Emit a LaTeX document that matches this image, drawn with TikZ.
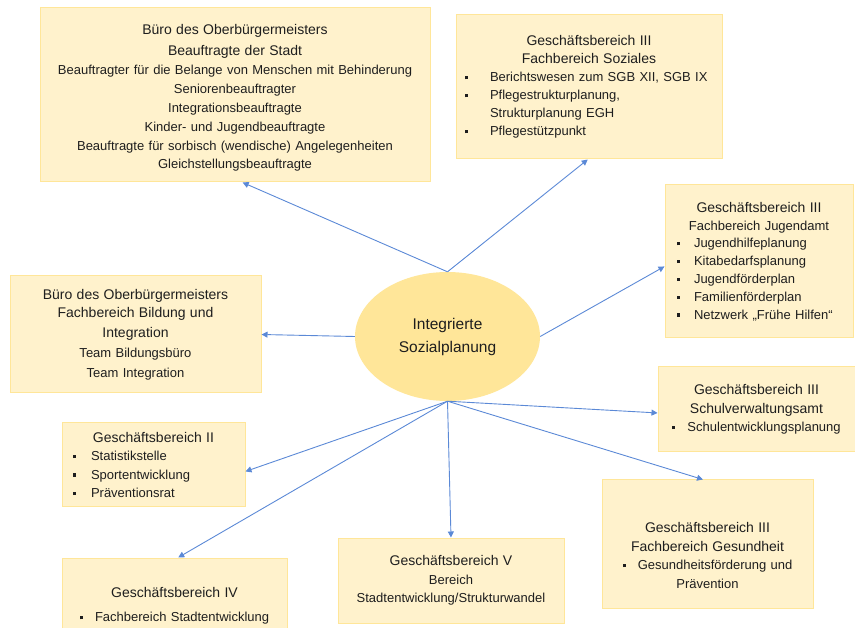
\documentclass[tikz,border=0pt]{standalone}
\usepackage{fontspec}
\setmainfont{Liberation Sans}
\usetikzlibrary{arrows.meta,shapes.geometric}
\definecolor{boxfill}{HTML}{FFF2CC}
\definecolor{boxline}{HTML}{FFE699}
\definecolor{ellfill}{HTML}{FFE699}
\definecolor{linkblue}{HTML}{5B89D6}
\definecolor{txt}{HTML}{1E1E1E}
\newcommand{\hd}{\fontsize{14}{18.5}\selectfont}
\newcommand{\sq}{\raisebox{2.6pt}{\rule{3.2pt}{3.2pt}}}
\newcommand{\itm}[2][18pt]{\par\noindent\makebox[#1][l]{\sq}\mbox{#2}}
\newcommand{\cont}[2][18pt]{\par\noindent\hspace*{#1}\mbox{#2}}
\begin{document}
\begin{tikzpicture}[x=1pt,y=-1pt,
    box/.style={draw=boxline,fill=boxfill,line width=1pt,inner ysep=0pt,
      text=txt,font=\fontsize{13}{18.5}\selectfont},
    hub/.style={ellipse,fill=ellfill,inner sep=0pt,text=txt,align=center,
      font=\fontsize{15.5}{23}\selectfont},
    link/.style={draw=linkblue,line width=0.9pt,-{Triangle[length=6pt,width=6pt]}}]
      \useasboundingbox (0,0) rectangle (855,628);
      \clip (0,0) rectangle (855,628);
      \draw
        (447.5,336.5) node[hub,minimum width=185pt,minimum height=129pt] (isp)
          {Integrierte\\Sozialplanung}
        (235,95) node[box,inner xsep=8pt,text width=374pt,minimum height=174pt,align=center,
            font=\fontsize{13}{18.8}\selectfont] (ob)
          {{\hd\rule{0pt}{16pt}Büro des Oberbürgermeisters\\[2pt]Beauftragte der Stadt}\\[1pt]
           Beauftragter für die Belange von Menschen mit Behinderung\\
           Seniorenbeauftragter\\Integrationsbeauftragte\\
           Kinder- und Jugendbeauftragte\\
           Beauftragte für sorbisch (wendische) Angelegenheiten\\
           Gleichstellungsbeauftragte}
        (589,87) node[box,inner xsep=9pt,text width=248pt,minimum height=144pt,align=left,
            font=\fontsize{13}{18}\selectfont] (soz)
          {{\centering\hd Geschäftsbereich III\\Fachbereich Soziales\par}
           \itm[25pt]{Berichtswesen zum SGB XII, SGB IX}
           \itm[25pt]{Pflegestrukturplanung,}
           \cont[25pt]{Strukturplanung EGH}
           \itm[25pt]{Pflegestützpunkt}}
        (759,261.5) node[box,inner xsep=12pt,text width=164pt,minimum height=153pt,align=left,
            font=\fontsize{13}{17.8}\selectfont] (jug)
          {{\centering{\hd Geschäftsbereich III}\\Fachbereich Jugendamt\par}
           \itm[17pt]{Jugendhilfeplanung}
           \itm[17pt]{Kitabedarfsplanung}
           \itm[17pt]{Jugendförderplan}
           \itm[17pt]{Familienförderplan}
           \itm[17pt]{Netzwerk „Frühe Hilfen“}}
        (135.5,334.5) node[box,inner xsep=8pt,text width=235pt,minimum height=117pt,align=center,
            font=\fontsize{13}{19.7}\selectfont] (bild)
          {{\hd Büro des Oberbürgermeisters\\Fachbereich Bildung und\\Integration}\\
           Team Bildungsbüro\\Team Integration}
        (756.5,409.5) node[box,inner xsep=8pt,text width=181pt,minimum height=85pt,align=center] (schul)
          {{\hd Geschäftsbereich III\\Schulverwaltungsamt}\\
           \sq\hspace{12pt}Schulentwicklungsplanung}
        (153.5,465) node[box,inner xsep=11pt,text width=161pt,minimum height=84pt,align=left] (gb2)
          {{\centering\hd Geschäftsbereich II\par}
           \itm{Statistikstelle}
           \itm{Sportentwicklung}
           \itm{Präventionsrat}}
        (707.5,544) node[box,inner xsep=8pt,text width=195pt,minimum height=128pt,align=center] (ges)
          {{\hd\rule{0pt}{33pt}Geschäftsbereich III\\Fachbereich Gesundheit}\\
           \sq\hspace{12pt}Gesundheitsförderung und\\Prävention}
        (174.5,600) node[box,inner xsep=8pt,text width=209pt,minimum height=84pt,align=center] (gb4)
          {{\hd\rule{0pt}{22pt}Geschäftsbereich IV}\\[6pt]
           \sq\hspace{12pt}Fachbereich Stadtentwicklung}
        (451,580.5) node[box,inner xsep=8pt,text width=210pt,minimum height=85pt,align=center] (gb5)
          {{\hd Geschäftsbereich V}\\
           Bereich\\Stadtentwicklung/Strukturwandel};
      \begin{scope}[link]
        \draw (isp.north) to (ob.-85);
        \draw (isp.north) to (soz.-91);
        \draw (isp.east) to (jug.183);
        \draw (isp.west) to (bild.east);
        \draw (isp.south) to (schul.182);
        \draw (isp.south) to (gb2.-4);
        \draw (isp.south) to (ges.94);
        \draw (isp.south) to (gb4.85);
        \draw (isp.south) to (gb5.north);
      \end{scope}
    \end{tikzpicture}
\end{document}
